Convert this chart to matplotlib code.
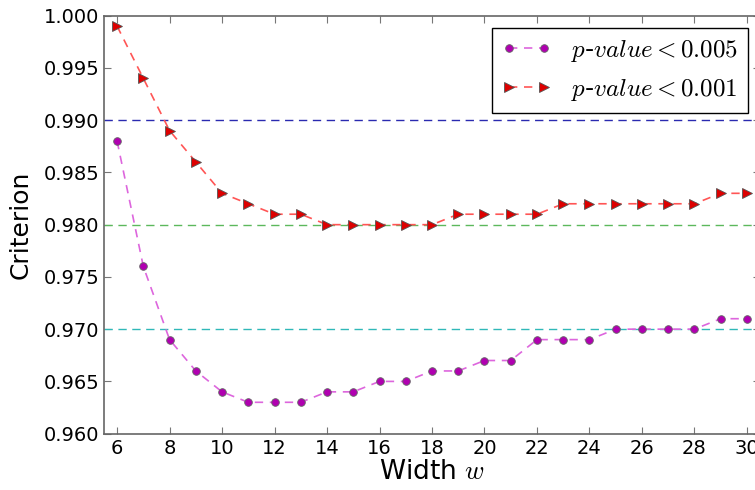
import matplotlib
matplotlib.use("Agg")
import matplotlib.pyplot as plt

plt.rcParams["mathtext.fontset"] = "cm"
plt.rcParams["font.family"] = "DejaVu Sans"

widths = list(range(6, 31))
crit_005 = [0.988, 0.976, 0.969, 0.966, 0.964, 0.963, 0.963, 0.963, 0.964, 0.964,
            0.965, 0.965, 0.966, 0.966, 0.967, 0.967, 0.969, 0.969, 0.969, 0.970,
            0.970, 0.970, 0.970, 0.971, 0.971]
crit_001 = [0.999, 0.994, 0.989, 0.986, 0.983, 0.982, 0.981, 0.981, 0.980, 0.980,
            0.980, 0.980, 0.980, 0.981, 0.981, 0.981, 0.981, 0.982, 0.982, 0.982,
            0.982, 0.982, 0.982, 0.983, 0.983]
ref_levels = [0.99, 0.98, 0.97]
ref_colors = ["#2a2ab0", "#5cb85c", "#30b8b8"]
labels = [r"$p$-$value < 0.005$", r"$p$-$value < 0.001$"]

fig = plt.figure(figsize=(7.55, 4.9), dpi=100)
ax = fig.add_axes([0.1377, 0.115, 0.869, 0.853])

for lvl, c in zip(ref_levels, ref_colors):
    ax.axhline(lvl, color=c, ls="--", lw=1, dashes=(6, 4))

ax.plot(widths, crit_005, "--o", color="#dd66dd", lw=1.2, dashes=(5, 4),
        markersize=5.5, markerfacecolor="#b000b0", markeredgecolor="#666666",
        markeredgewidth=0.6, label=labels[0])
ax.plot(widths, crit_001, "-->", color="#ff5555", lw=1.2, dashes=(5, 4),
        markersize=6.5, markerfacecolor="#dd0000", markeredgecolor="#555555",
        markeredgewidth=0.6, label=labels[1])

ax.set_xlim(5.5, 30.5)
ax.set_ylim(0.96, 1.0)
ax.set_xticks(range(6, 31, 2))
ax.set_yticks([0.96 + 0.005 * i for i in range(9)])
ax.set_yticklabels(["%.3f" % (0.96 + 0.005 * i) for i in range(9)])
ax.tick_params(direction="in", top=True, right=True, labelsize=14,
               color="#777777", length=5)
for s in ax.spines.values():
    s.set_color("#666666")
    s.set_linewidth(1.2)

ax.set_xlabel(r"Width $w$", fontsize=19, labelpad=1)
ax.set_ylabel("Criterion", fontsize=18, labelpad=8)

leg = ax.legend(loc="upper right", numpoints=2, fontsize=18, fancybox=False,
                framealpha=1, edgecolor="black", handlelength=2.0,
                handletextpad=0.75, borderpad=0.4, labelspacing=0.5,
                borderaxespad=0.5)
leg.get_frame().set_linewidth(1)

fig.savefig("out.png", dpi=100)
